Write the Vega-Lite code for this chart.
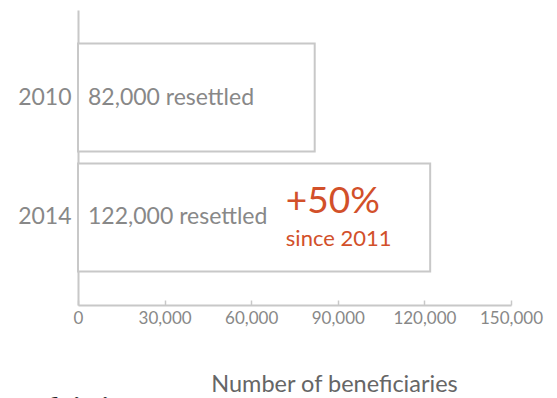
{
  "$schema": "https://vega.github.io/schema/vega-lite/v6.json",
  "width": 433,
  "height": 295,
  "autosize": "none",
  "padding": {"left": 78, "top": 10, "right": 46, "bottom": 93},
  "background": "white",
  "config": {"view": {"stroke": null}, "font": "Lato"},
  "title": {
    "text": "Beneficiaries",
    "orient": "bottom",
    "anchor": "start",
    "dx": -28,
    "offset": 0,
    "fontSize": 25,
    "fontWeight": "bold",
    "color": "#222",
    "font": "Lato"
  },
  "datasets": {
    "bars": [
      {"year": "2010", "resettled": 82000, "label": "82,000 resettled"},
      {"year": "2014", "resettled": 122000, "label": "122,000 resettled"}
    ],
    "notes": [
      {"year": "2014", "pos": 72000, "big": "+50%", "small": "since 2011"}
    ]
  },
  "layer": [
    {
      "data": {"name": "bars"},
      "mark": {"type": "bar", "fill": "white", "stroke": "#c8c8c8", "strokeWidth": 2},
      "encoding": {
        "y": {
          "field": "year", "type": "nominal", "sort": ["2010", "2014"],
          "scale": {"paddingInner": 0.1, "paddingOuter": 0.28},
          "axis": {
            "title": null, "ticks": false, "labelFontSize": 23, "labelColor": "#888",
            "labelPadding": 7, "domainColor": "#c8c8c8", "domainWidth": 2, "labelFont": "Lato"
          }
        },
        "x": {
          "field": "resettled", "type": "quantitative",
          "scale": {"domain": [0, 150000], "nice": false},
          "axis": {
            "values": [0, 30000, 60000, 90000, 120000, 150000],
            "format": ",.0f", "grid": false,
            "title": "Number of beneficiaries", "titleFontSize": 23.5, "titleFontWeight": "normal",
            "titleColor": "#666", "titlePadding": 46, "titleX": 256, "titleFont": "Lato",
            "labelFontSize": 17, "labelColor": "#888", "labelPadding": 10, "labelFont": "Lato",
            "domainColor": "#c8c8c8", "domainWidth": 2,
            "tickColor": "#c8c8c8", "tickSize": -5, "tickWidth": 1.5, "labelFlush": false
          }
        }
      }
    },
    {
      "data": {"name": "bars"},
      "mark": {"type": "text", "align": "left", "baseline": "middle", "dx": 10, "fontSize": 23, "color": "#888", "font": "Lato"},
      "encoding": {
        "y": {"field": "year", "type": "nominal", "sort": ["2010", "2014"]},
        "x": {"datum": 0},
        "text": {"field": "label"}
      }
    },
    {
      "data": {"name": "notes"},
      "mark": {"type": "text", "align": "left", "baseline": "middle", "dy": -15, "fontSize": 37, "color": "#d2502a", "font": "Lato"},
      "encoding": {
        "y": {"field": "year", "type": "nominal", "sort": ["2010", "2014"]},
        "x": {"field": "pos", "type": "quantitative"},
        "text": {"field": "big"}
      }
    },
    {
      "data": {"name": "notes"},
      "mark": {"type": "text", "align": "left", "baseline": "middle", "dy": 22, "fontSize": 22, "color": "#d2502a", "font": "Lato"},
      "encoding": {
        "y": {"field": "year", "type": "nominal", "sort": ["2010", "2014"]},
        "x": {"field": "pos", "type": "quantitative"},
        "text": {"field": "small"}
      }
    }
  ]
}
